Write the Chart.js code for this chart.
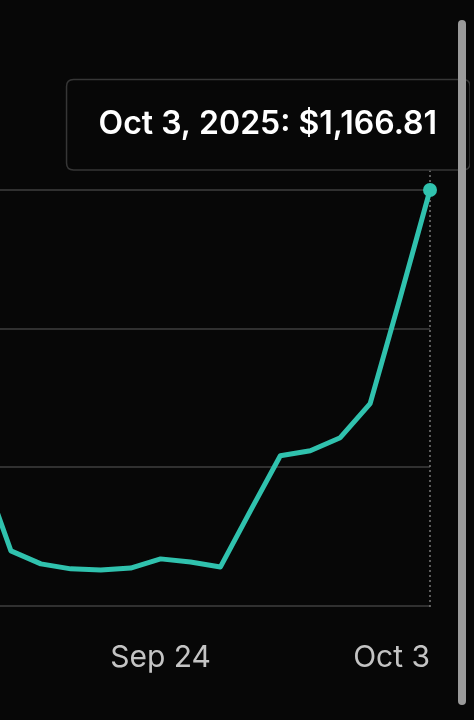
<!DOCTYPE html>
<html>
<head>
<meta charset="utf-8">
<script src="https://cdn.jsdelivr.net/npm/chart.js@4.4.1/dist/chart.umd.min.js"></script>
<style>
  html, body { margin: 0; padding: 0; background: #070707; }
  .wrap { position: relative; width: 474px; height: 720px; overflow: hidden; background: #070707; }
  #balance-chart { position: absolute; left: -45px; top: 0; }
  .scrollbar { position: absolute; left: 458px; top: 20px; width: 8px; height: 685px; background: #9a9a9a; border-radius: 4px; }
</style>
</head>
<body>
<div class="wrap">
  <canvas id="balance-chart" width="515" height="720"></canvas>
  <div class="scrollbar"></div>
</div>
<script>
// daily balance, Sep 18 - Oct 3 2025 (first point sits just off the left edge)
const dayLabels = ["Sep 18", "Sep 19", "Sep 20", "Sep 21", "Sep 22", "Sep 23", "Sep 24", "Sep 25",
  "Sep 26", "Sep 27", "Sep 28", "Sep 29", "Sep 30", "Oct 1", "Oct 2", "Oct 3"];
const balance = [1067.0, 1036.7, 1032.0, 1030.2, 1029.8, 1030.5, 1033.8, 1032.7,
  1030.9, 1051.1, 1071.0, 1072.8, 1077.5, 1089.8, 1127.8, 1166.81];
const shownTicks = ["Sep 24", "Oct 3"];
const year = 2025;
const yMin = 1016.81;
const yMax = 1166.81;
const yStep = 50;

const last = balance.length - 1;

// dotted hover guide at the active point
const hoverLine = {
  id: "hoverLine",
  beforeDatasetsDraw(chart) {
    const { ctx, chartArea } = chart;
    const x = chart.scales.x.getPixelForValue(last);
    ctx.save();
    ctx.strokeStyle = "#7a7a7a";
    ctx.lineWidth = 1.5;
    ctx.setLineDash([2, 3]);
    ctx.beginPath();
    ctx.moveTo(x, chartArea.top - 20);
    ctx.lineTo(x, chartArea.bottom + 2);
    ctx.stroke();
    ctx.restore();
  }
};

const ctx = document.getElementById("balance-chart").getContext("2d");
const chart = new Chart(ctx, {
  type: "line",
  data: {
    labels: dayLabels,
    datasets: [{
      data: balance,
      borderColor: "#30c2ae",
      backgroundColor: "#30c2ae",
      borderWidth: 5,
      tension: 0,
      borderJoinStyle: "round",
      borderCapStyle: "round",
      pointRadius: (c) => (c.dataIndex === last ? 7 : 0),
      pointStyle: "circle",
      pointBorderWidth: 0,
      clip: false,
      fill: false,
    }],
  },
  options: {
    responsive: false,
    animation: false,
    devicePixelRatio: 1,
    events: [],
    layout: { padding: { left: 6, right: 40, top: 190, bottom: 18 } },
    plugins: {
      legend: { display: false },
      tooltip: {
        enabled: true,
        mode: "index",
        intersect: false,
        position: "average",
        xAlign: "center",
        yAlign: "bottom",
        caretSize: 0,
        caretPadding: 20,
        backgroundColor: "#070707",
        borderColor: "#363636",
        borderWidth: 1.5,
        cornerRadius: 7,
        displayColors: false,
        padding: { left: 32, right: 33, top: 26, bottom: 26 },
        bodyColor: "#ffffff",
        bodyFont: { family: "Inter", size: 32, weight: "600" },
        callbacks: {
          title: () => [],
          label: (item) => dayLabels[item.dataIndex] + ", " + year + ": $" +
            item.parsed.y.toLocaleString("en-US", { minimumFractionDigits: 2, maximumFractionDigits: 2 }),
        },
      },
    },
    scales: {
      x: {
        grid: { display: false },
        border: { display: false },
        ticks: {
          autoSkip: false,
          maxRotation: 0,
          align: "inner",
          padding: 26,
          color: "#c4c4c4",
          font: { family: "Inter", size: 30 },
          callback: (v, i) => (shownTicks.includes(dayLabels[i]) ? dayLabels[i] : ""),
        },
      },
      y: {
        min: yMin,
        max: yMax,
        ticks: { display: false, stepSize: yStep },
        border: { display: false },
        grid: { color: "#303030", lineWidth: 2, drawTicks: false },
      },
    },
  },
  plugins: [hoverLine],
});

chart.tooltip.setActiveElements([{ datasetIndex: 0, index: last }], { x: 0, y: 0 });
chart.update();
</script>
</body>
</html>
